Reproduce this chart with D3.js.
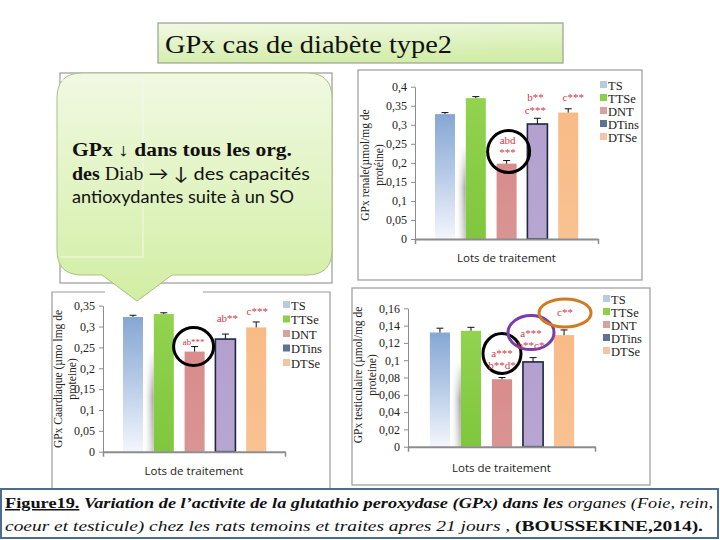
<!DOCTYPE html>
<html><head><meta charset="utf-8">
<script src="https://cdn.jsdelivr.net/npm/d3@7"></script>
<style>body{margin:0;background:#fff}svg{display:block}</style>
</head><body><svg id="c" width="720" height="540"></svg>
<script>
// ---------- data ----------
const categories = ["TS","TTSe","DNT","DTins","DTSe"];
const renalValues = [0.328, 0.370, 0.198, 0.302, 0.332];
const renalErrors = [0.004, 0.004, 0.008, 0.015, 0.010];
const renalTicks = [0, 0.05, 0.1, 0.15, 0.2, 0.25, 0.3, 0.35, 0.4];
const cardiacValues = [0.323, 0.330, 0.240, 0.270, 0.298];
const cardiacErrors = [0.004, 0.003, 0.012, 0.012, 0.013];
const cardiacTicks = [0, 0.05, 0.1, 0.15, 0.2, 0.25, 0.3, 0.35];
const testValues = [0.132, 0.134, 0.078, 0.098, 0.129];
const testErrors = [0.005, 0.004, 0.002, 0.005, 0.006];
const testTicks = [0, 0.02, 0.04, 0.06, 0.08, 0.1, 0.12, 0.14, 0.16];
const renalNotes = [
  {cat:"DNT", lines:["abd","***"], ring:"#000"},
  {cat:"DTins", lines:["b**","c***"]},
  {cat:"DTSe", lines:["c***"]}
];
const cardiacNotes = [
  {cat:"DNT", lines:["ab***"], ring:"#000"},
  {cat:"DTins", lines:["ab**"]},
  {cat:"DTSe", lines:["c***"]}
];
const testNotes = [
  {cat:"DNT", lines:["a***","b**d*"], ring:"#000"},
  {cat:"DTins", lines:["a***","b**c*"], ring:"#7a3ca8"},
  {cat:"DTSe", lines:["c**"], ring:"#d27a22"}
];
const titleText = "GPx  cas de diabète type2";

// ---------- drawing ----------
const svg = d3.select("#c");
const defs = svg.append("defs");
function lin(id, stops, x2, y2){
  const g = defs.append("linearGradient").attr("id", id)
    .attr("x1",0).attr("y1",0).attr("x2",x2).attr("y2",y2);
  stops.forEach(s => g.append("stop").attr("offset", s[0]).attr("stop-color", s[1]).attr("stop-opacity", s[2]===undefined?1:s[2]));
}
lin("gTS", [[0,"#86a7d3"],[0.45,"#b3c8e6"],[1,"#f3f6fc"]], 0, 1);
lin("gTTSe", [[0,"#92d350"],[1,"#80c63e"]], 0, 1);
lin("gDNT", [[0,"#d98c8c"],[1,"#d99494"]], 0, 1);
lin("gDTins", [[0,"#b3a0cf"],[1,"#b7a6d2"]], 0, 1);
lin("gDTSe", [[0,"#f8bb86"],[1,"#f9c293"]], 0, 1);
lin("gShadowH", [[0,"#ffffff",0],[1,"#8a8a8a",0.85]], 1, 0);
lin("gShadowV", [[0,"#000"],[0.45,"#fff"],[1,"#999"]], 0, 1);
lin("gTitle", [[0,"#f2f9e4"],[1,"#d3edaa"]], 0.3, 1);
lin("gCall", [[0,"#f1f9e2"],[1,"#d2eea4"]], 0, 1);
defs.append("mask").attr("id","mShadow").attr("maskContentUnits","objectBoundingBox")
  .append("rect").attr("width",1).attr("height",1).attr("fill","url(#gShadowV)");

const fills = {TS:"url(#gTS)", TTSe:"url(#gTTSe)", DNT:"url(#gDNT)", DTins:"url(#gDTins)", DTSe:"url(#gDTSe)"};
const swatch = {TS:"#b9c9e2", TTSe:"#8ccf4a", DNT:"#d9a0a0", DTins:"#5e7294", DTSe:"#f2c6a4"};
const fmt = v => String(+v.toFixed(2)).replace(".", ",");
const SERIF = "Liberation Serif, serif";

// frames (background panels)
function frame(x,y,w,h){ svg.append("rect").attr("x",x).attr("y",y).attr("width",w).attr("height",h)
  .attr("fill","#fff").attr("stroke","#9a9a9a").attr("stroke-width",1.2); }
frame(60,73,272,210);
frame(358,70,284,210);
frame(352,288,298,197);
// bottom-left frame (top edge interrupted)
svg.append("rect").attr("x",52).attr("y",292).attr("width",278).attr("height",196).attr("fill","#fff");
svg.append("path").attr("d","M105,292 H52 V488 M203,292 H330 V488").attr("fill","none").attr("stroke","#9a9a9a").attr("stroke-width",1.2);

function chart(cfg){
  const g = svg.append("g");
  const x = d3.scaleBand().domain(categories).range(cfg.xRange).paddingInner(0.35).paddingOuter(0.35);
  const y = d3.scaleLinear().domain([0, cfg.ticks[cfg.ticks.length-1]]).range(cfg.yRange);
  const bw = x.bandwidth();
  // shadow between TS and TTSe
  g.append("rect").attr("x", x("TS")+bw).attr("width", x("TTSe")-x("TS")-bw)
    .attr("y", y(cfg.values[0]*0.75)).attr("height", y(0)-y(cfg.values[0]*0.75))
    .attr("fill","url(#gShadowH)").attr("mask","url(#mShadow)");
  // bars
  g.selectAll(".bar").data(categories).enter().append("rect")
    .attr("x", c => x(c)).attr("width", bw)
    .attr("y", (c,i) => y(cfg.values[i])).attr("height", (c,i) => y(0)-y(cfg.values[i]))
    .attr("fill", c => fills[c])
    .attr("stroke", c => c==="DTins" ? "#1c2740" : "none").attr("stroke-width", 1.6);
  // error bars
  categories.forEach((c,i) => {
    const cx = x(c)+bw/2, y0 = y(cfg.values[i]), y1 = y(cfg.values[i]+cfg.errors[i]);
    g.append("line").attr("x1",cx).attr("x2",cx).attr("y1",y0).attr("y2",y1).attr("stroke","#111").attr("stroke-width",1);
    g.append("line").attr("x1",cx-3.5).attr("x2",cx+3.5).attr("y1",y1).attr("y2",y1).attr("stroke","#111").attr("stroke-width",1);
  });
  // y axis
  const ya = g.append("g").attr("transform", `translate(${cfg.axisX[0]},0)`)
    .call(d3.axisLeft(y).tickValues(cfg.ticks).tickFormat(fmt).tickSize(4).tickSizeOuter(0).tickPadding(4));
  ya.attr("font-family", SERIF).attr("font-size", 12);
  ya.select(".domain").attr("stroke","#8c8c8c");
  ya.selectAll(".tick line").attr("stroke","#8c8c8c");
  ya.selectAll(".tick text").attr("fill","#222");
  // x axis
  const xl = d3.scaleLinear().domain([0,1]).range(cfg.axisX);
  const xa = g.append("g").attr("transform", `translate(0,${y(0)})`)
    .call(d3.axisBottom(xl).tickValues([0,1]).tickFormat("").tickSize(5).tickSizeOuter(0));
  xa.select(".domain").attr("stroke","#8c8c8c").attr("stroke-width",2);
  xa.selectAll(".tick line").attr("stroke","#8c8c8c").attr("stroke-width",1.5);
  // x title
  g.append("text").attr("x", (cfg.axisX[0]+cfg.axisX[1])/2).attr("y", y(0)+cfg.xTitleDy)
    .attr("text-anchor","middle").attr("font-family","Open Sans, sans-serif").attr("font-size",11.5).attr("fill","#222")
    .text("Lots de traitement");
  // y title
  const yt = g.append("text").attr("transform", `translate(${cfg.yTitlePos[0]},${cfg.yTitlePos[1]}) rotate(-90)`)
    .attr("text-anchor","middle").attr("font-family",SERIF).attr("font-size",11.5).attr("fill","#222");
  cfg.yTitle.forEach((t,i) => yt.append("tspan").attr("x",0).attr("dy", i?13.5:0).text(t));
  // legend
  categories.forEach((c,i) => {
    const ly = cfg.legend[1] + i*cfg.legend[2];
    g.append("rect").attr("x", cfg.legend[0]).attr("y", ly-4).attr("width",7).attr("height",7).attr("fill", swatch[c]);
    g.append("text").attr("x", cfg.legend[0]+8).attr("y", ly+4.5).attr("font-family",SERIF)
      .attr("font-size",12.5).attr("fill","#222").text(c);
  });
  // annotations
  cfg.notes.forEach((n,k) => {
    const p = cfg.notePos[k];
    const i = categories.indexOf(n.cat);
    const cx = x(n.cat)+bw/2 + p.dx, top = y(cfg.values[i]+cfg.errors[i]);
    if (n.ring) g.append("ellipse").attr("cx", cx + (p.rdx||0)).attr("cy", top + p.rdy).attr("rx", p.rx).attr("ry", p.ry)
      .attr("fill","none").attr("stroke", n.ring).attr("stroke-width", 3);
    n.lines.forEach((t,j) => g.append("text").attr("x", cx).attr("y", top + p.dy + j*p.lh)
      .attr("text-anchor","middle").attr("font-family",SERIF).attr("font-size", p.fs||11)
      .attr("fill","#d23a48").text(t));
  });
}

chart({values:renalValues, errors:renalErrors, ticks:renalTicks, notes:renalNotes,
  xRange:[424.2,589], yRange:[239,86.7], axisX:[415,598], xTitleDy:23,
  yTitle:["GPx renale(µmol/mg de","protéine)"], yTitlePos:[369,165], legend:[600,85,13],
  notePos:[{dx:1,dy:-17,lh:12.5,rdy:-9,rx:21,ry:21,rdx:1},{dx:-2,dy:-17,lh:12.5},{dx:5,dy:-8,lh:12}]});
chart({values:cardiacValues, errors:cardiacErrors, ticks:cardiacTicks, notes:cardiacNotes,
  xRange:[112.2,277], yRange:[451.7,305.7], axisX:[103,285], xTitleDy:23,
  yTitle:["GPx Caardiaque (µmo lmg de","proteine)"], yTitlePos:[62,379], legend:[283,305,14.5],
  notePos:[{dx:-1,dy:-2,lh:12,fs:9,rdy:0,rx:20,ry:19,rdx:0},{dx:2,dy:-12,lh:12},{dx:1,dy:-7,lh:12}]});
chart({values:testValues, errors:testErrors, ticks:testTicks, notes:testNotes,
  xRange:[419,585], yRange:[446.7,308.3], axisX:[408,595], xTitleDy:25,
  yTitle:["GPx testiculaire  (µmol/mg de","proteine)"], yTitlePos:[362,375], legend:[603,299,13],
  notePos:[{dx:0,dy:-21,lh:12.5,rdy:-24,rx:19,ry:20,rdx:0},{dx:-2,dy:-21,lh:12.5,rdy:-25,rx:23,ry:17,rdx:0},{dx:1,dy:-14,lh:12,rdy:-17,rx:26,ry:14,rdx:0}]});

// title box
svg.append("rect").attr("x",158).attr("y",23).attr("width",405).attr("height",40)
  .attr("fill","url(#gTitle)").attr("stroke","#9aa08f").attr("stroke-width",1.2);
svg.append("text").attr("x",165).attr("y",53).attr("font-family",SERIF).attr("font-size",26)
  .attr("fill","#111").attr("textLength",287).attr("lengthAdjust","spacingAndGlyphs").text(titleText);

// callout
svg.append("path")
  .attr("d","M82,73 H307 Q332,73 332,98 V250 Q332,275 307,275 H172 L137,301 L102,275 H82 Q57,275 57,250 V98 Q57,73 82,73 Z")
  .attr("fill","url(#gCall)").attr("stroke","#a9c182").attr("stroke-width",1);
svg.append("path").attr("d","M60,80 H143 V257 H60").attr("fill","none").attr("stroke","#f4f8ec").attr("stroke-width",1);
const ct1 = svg.append("text").attr("x",72).attr("y",156).attr("font-size",18).attr("fill","#111")
  .attr("font-family",SERIF).attr("font-weight","bold").attr("textLength",220).attr("lengthAdjust","spacingAndGlyphs")
  .text("GPx ↓  dans tous les org.");
const ct2 = svg.append("text").attr("x",72).attr("y",180).attr("font-size",18).attr("fill","#111")
  .attr("textLength",238).attr("lengthAdjust","spacingAndGlyphs");
ct2.append("tspan").attr("font-family",SERIF).attr("font-weight","bold").text("des ");
ct2.append("tspan").attr("font-family",SERIF).text("Diab ");
ct2.append("tspan").attr("font-family","Lato, sans-serif").text(" → ↓ des capacités");
svg.append("text").attr("x",72).attr("y",203).attr("font-size",18).attr("fill","#111")
  .attr("font-family","Lato, sans-serif").attr("textLength",222).attr("lengthAdjust","spacingAndGlyphs")
  .text("antioxydantes suite à un SO");

// caption
svg.append("rect").attr("x",1).attr("y",489).attr("width",717).attr("height",49)
  .attr("fill","#fff").attr("stroke","#4d6d8f").attr("stroke-width",2);
const c1 = svg.append("text").attr("x",5).attr("y",508).attr("font-family",SERIF).attr("font-size",15)
  .attr("fill","#111").attr("textLength",708).attr("lengthAdjust","spacingAndGlyphs");
c1.append("tspan").attr("font-weight","bold").attr("text-decoration","underline").text("Figure19.");
c1.append("tspan").attr("font-weight","bold").attr("font-style","italic").text(" Variation de l’activite de la glutathio peroxydase (GPx) dans les");
c1.append("tspan").attr("font-style","italic").text(" organes (Foie, rein,");
const c2 = svg.append("text").attr("x",5).attr("y",531).attr("font-family",SERIF).attr("font-size",15)
  .attr("fill","#111").attr("textLength",698).attr("lengthAdjust","spacingAndGlyphs");
c2.append("tspan").attr("font-style","italic").text("coeur et testicule) chez les rats temoins et traites apres 21 jours  , ");
c2.append("tspan").attr("font-weight","bold").text("(BOUSSEKINE,2014).");
</script></body></html>
